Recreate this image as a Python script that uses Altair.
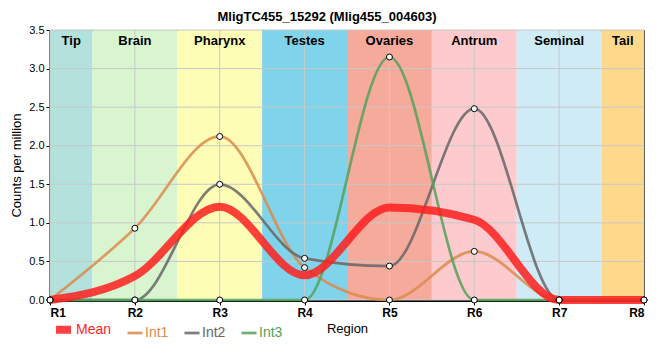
import altair as alt
import pandas as pd

# ---- data ----
regions = ["R1", "R2", "R3", "R4", "R5", "R6", "R7", "R8"]
tissues = ["Tip", "Brain", "Pharynx", "Testes", "Ovaries", "Antrum", "Seminal", "Tail"]
series_names = ["Mean", "Int1", "Int2", "Int3"]
mean_vals = [0.0, 0.31, 1.21, 0.32, 1.20, 1.04, 0.0, 0.0]
int1_vals = [0.0, 0.93, 2.12, 0.42, 0.0, 0.63, 0.0, 0.0]
int2_vals = [0.0, 0.0, 1.50, 0.54, 0.44, 2.48, 0.0, 0.0]
int3_vals = [0.0, 0.0, 0.0, 0.0, 3.15, 0.0, 0.0, 0.0]
y_ticks = [0.0, 0.5, 1.0, 1.5, 2.0, 2.5, 3.0, 3.5]

# ---- styles ----
tissue_colors = ["#b3e2dd", "#d9f5d0", "#fdfdb5", "#7fd3ea", "#f5aa9c", "#fdcbcd", "#cfebf5", "#fed98c"]
series_colors = ["#ff1f1f", "#dc8b4c", "#666666", "#56a05a"]
series_widths = [8, 2.7, 2.7, 2.7]
FONT = "Liberation Sans"

n = len(regions)
pos = list(range(1, n + 1))

series_vals = {"Mean": mean_vals, "Int1": int1_vals, "Int2": int2_vals, "Int3": int3_vals}
rows = []
for s in series_names:
    for i, v in enumerate(series_vals[s]):
        rows.append({"series": s, "pos": pos[i], "region": regions[i], "value": v})
df = pd.DataFrame(rows)
df_mean = df[df.series == "Mean"]
df_int = df[df.series != "Mean"]

band_df = pd.DataFrame({
    "tissue": tissues,
    "start": [max(1, p - 0.5) for p in pos],
    "end": [min(n, p + 0.5) for p in pos],
    "color": tissue_colors,
})
band_df["mid"] = (band_df.start + band_df.end) / 2
grid_x = pd.DataFrame({"pos": pos})
grid_y = pd.DataFrame({"v": y_ticks})

label_expr = "[" + ",".join("'%s'" % r for r in regions) + "][datum.value - 1]"
xscale = alt.Scale(domain=[1, n], nice=False, zero=False)
yscale = alt.Scale(domain=[0, 3.5], nice=False)
xaxis = alt.Axis(values=pos, labelExpr=label_expr, grid=False, tickSize=5,
                 labelFontWeight="bold", labelFontSize=12, labelPadding=2,
                 labelColor="black", titleFontSize=13, titleFontWeight="normal",
                 titlePadding=4, titleColor="black", domainWidth=3)
yaxis = alt.Axis(values=y_ticks, format=".1f", grid=False, tickSize=4,
                 labelFontSize=11, labelColor="black", titleFontSize=13,
                 titleFontWeight="normal", titleColor="black", titlePadding=5,
                 domainWidth=2.5)


def X(field):
    return alt.X(field, type="quantitative", scale=xscale, axis=xaxis, title="Region")


def Y(field):
    return alt.Y(field, type="quantitative", scale=yscale, axis=yaxis, title="Counts per million")


legend = alt.Legend(orient="none", legendX=2, legendY=288, direction="horizontal", title=None,
                    symbolType="stroke", symbolSize=225, labelFontSize=14, labelFont=FONT,
                    labelColor=alt.ExprRef(expr="scale('color', datum.value)"),
                    symbolStrokeWidth=alt.ExprRef(expr="datum.value == 'Mean' ? 8 : 2.7"),
                    symbolOpacity=0.85, columnPadding=10, labelOffset=1)

color_enc = alt.Color("series:N", scale=alt.Scale(domain=series_names, range=series_colors),
                      legend=legend, sort=series_names)
width_enc = alt.StrokeWidth("series:N",
                            scale=alt.Scale(type="ordinal", domain=series_names, range=series_widths),
                            legend=None)

bands = alt.Chart(band_df).mark_rect().encode(
    x=X("start"), x2="end", color=alt.Color("color:N", scale=None))
gx = alt.Chart(grid_x).mark_rule(color="#c8c8c8", strokeWidth=1).encode(x=X("pos"))
gy = alt.Chart(grid_y).mark_rule(color="#c8c8c8", strokeWidth=1).encode(y=Y("v"))
labels = alt.Chart(band_df).mark_text(font=FONT, fontSize=13, fontWeight="bold",
                                      baseline="top", color="black").encode(
    x=X("mid"), y=alt.value(5), text="tissue:N")
lines_int = alt.Chart(df_int).mark_line(interpolate="monotone", opacity=0.85).encode(
    x=X("pos"), y=Y("value"), color=color_enc, strokeWidth=width_enc, detail="series:N")
lines_mean = alt.Chart(df_mean).mark_line(interpolate="monotone", opacity=0.85).encode(
    x=X("pos"), y=Y("value"), color=color_enc, strokeWidth=width_enc, detail="series:N")
points = alt.Chart(df_int).mark_point(filled=True, fill="white", stroke="black",
                                      strokeWidth=1, size=36, opacity=1).encode(
    x=X("pos"), y=Y("value"))

chart = alt.layer(bands, gx, gy, labels, lines_int, lines_mean, points).properties(
    width=594, height=270,
    title=alt.TitleParams("MligTC455_15292 (Mlig455_004603)", font=FONT, fontSize=13,
                          fontWeight="bold", color="black", dx=-20, offset=0, anchor="middle"),
    autosize=alt.AutoSizeParams(type="none"),
    padding={"left": 42, "top": 22, "right": 8, "bottom": 50},
).configure_view(stroke="black", strokeWidth=1).configure_axis(
    domainColor="black", tickColor="black", labelFont=FONT, titleFont=FONT
)

chart.save("out.html", embed_options={"renderer": "svg", "actions": False})
